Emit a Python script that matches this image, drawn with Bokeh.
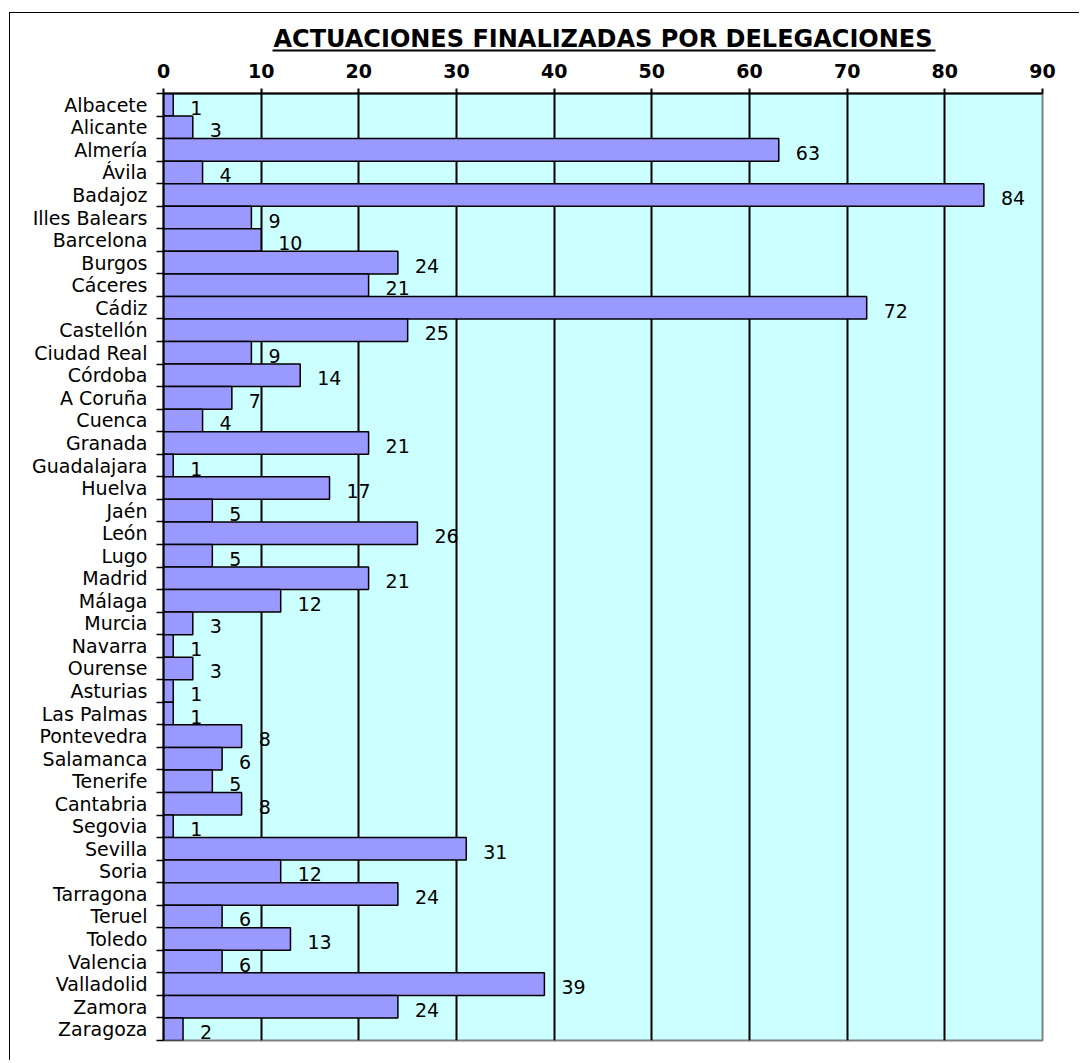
from bokeh.plotting import figure
from bokeh.models import (Range1d, FixedTicker, LinearAxis, ColumnDataSource,
                          CustomJSTickFormatter)
from bokeh.core.properties import value
from bokeh.embed import file_html
from bokeh.resources import INLINE

title_text = "ACTUACIONES FINALIZADAS POR DELEGACIONES"

delegaciones = ["Albacete", "Alicante", "Almería", "Ávila", "Badajoz", "Illes Balears",
                "Barcelona", "Burgos", "Cáceres", "Cádiz", "Castellón", "Ciudad Real",
                "Córdoba", "A Coruña", "Cuenca", "Granada", "Guadalajara", "Huelva",
                "Jaén", "León", "Lugo", "Madrid", "Málaga", "Murcia", "Navarra",
                "Ourense", "Asturias", "Las Palmas", "Pontevedra", "Salamanca",
                "Tenerife", "Cantabria", "Segovia", "Sevilla", "Soria", "Tarragona",
                "Teruel", "Toledo", "Valencia", "Valladolid", "Zamora", "Zaragoza"]

actuaciones = [1, 3, 63, 4, 84, 9, 10, 24, 21, 72, 25, 9, 14, 7, 4, 21, 1, 17, 5, 26,
               5, 21, 12, 3, 1, 3, 1, 1, 8, 6, 5, 8, 1, 31, 12, 24, 6, 13, 6, 39, 24, 2]

x_ticks = [0, 10, 20, 30, 40, 50, 60, 70, 80, 90]

n = len(delegaciones)
# row slot of each delegation (first one at the top)
row = [n - i - 0.5 for i in range(n)]
edges = list(range(n + 1))

src = ColumnDataSource(dict(y=row, val=actuaciones,
                            lbl=[str(v) for v in actuaciones]))

# canvas starts at page (10, 13) because of margin + border below
W, H = 1070, 1048
p = figure(width=W, height=H,
           y_range=Range1d(0, n),
           x_range=Range1d(x_ticks[0], x_ticks[-1]),
           x_axis_location="above", y_axis_location=None,
           output_backend="svg", toolbar_location=None, title=None)
p.margin = (12, 0, 0, 9)
p.styles = {"border-left": "1px solid black", "border-top": "1px solid black"}

p.min_border_left = 153
p.min_border_right = 38
p.min_border_top = 80
p.min_border_bottom = 21
p.background_fill_color = "#CCFFFF"
p.border_fill_color = "white"
p.outline_line_color = "#808080"
p.outline_line_width = 2

# tick-only axis at row boundaries
tick_axis = LinearAxis(ticker=FixedTicker(ticks=edges, minor_ticks=[]),
                       formatter=CustomJSTickFormatter(code="return ''"),
                       major_tick_out=7, major_tick_in=0, major_tick_line_width=1.5,
                       major_tick_line_color="black",
                       minor_tick_line_color=None,
                       axis_line_color="black", axis_line_width=2,
                       major_label_standoff=0)
p.add_layout(tick_axis, "left")

# label-only axis at row centres
cat_axis = LinearAxis(ticker=FixedTicker(ticks=row, minor_ticks=[]),
                      major_label_overrides=dict(zip(row, delegaciones)),
                      major_tick_line_color=None, major_tick_out=0, major_tick_in=0,
                      minor_tick_line_color=None,
                      axis_line_color=None, major_label_standoff=9,
                      major_label_text_font="DejaVu Sans",
                      major_label_text_font_size="19px",
                      major_label_text_color="black")
p.add_layout(cat_axis, "left")

xa = p.xaxis[0]
xa.ticker = FixedTicker(ticks=x_ticks, minor_ticks=[])
xa.major_tick_out = 5
xa.major_tick_in = 0
xa.major_tick_line_width = 2
xa.major_tick_line_color = "black"
xa.minor_tick_line_color = None
xa.axis_line_width = 2
xa.axis_line_color = "black"
xa.major_label_standoff = 11
xa.major_label_text_font = "DejaVu Sans"
xa.major_label_text_font_style = "bold"
xa.major_label_text_font_size = "19px"
xa.major_label_text_color = "black"
# blank spacer label so the title sits a little higher
xa.axis_label = " "
xa.axis_label_standoff = 6
xa.axis_label_text_font_size = "1px"

# title: an axis with only its (underlining) line and its label
title_axis = LinearAxis(ticker=FixedTicker(ticks=[], minor_ticks=[]),
                        bounds=(11.2, 79.0),
                        major_tick_line_color=None, minor_tick_line_color=None,
                        major_tick_out=0, major_tick_in=0, major_label_standoff=0,
                        major_label_text_font_size="1px",
                        axis_line_color="black", axis_line_width=2,
                        axis_label=title_text, axis_label_standoff=-2,
                        axis_label_text_font="DejaVu Sans",
                        axis_label_text_font_style="bold",
                        axis_label_text_font_size="24px",
                        axis_label_text_color="black")
p.add_layout(title_axis, "above")

p.xgrid.ticker = FixedTicker(ticks=x_ticks)
p.xgrid.grid_line_color = "black"
p.xgrid.grid_line_width = 2
p.ygrid.grid_line_color = None

p.hbar(y="y", left=0, right="val", height=1.0, source=src,
       fill_color="#9999FF", line_color="black", line_width=1.5)

p.text(x="val", y="y", text="lbl", source=src, x_offset=17, y_offset=3,
       text_align="left", text_baseline="middle",
       text_font=value("DejaVu Sans"), text_font_size="19px", text_color="black")

open("out.html", "w").write(file_html(p, INLINE))
